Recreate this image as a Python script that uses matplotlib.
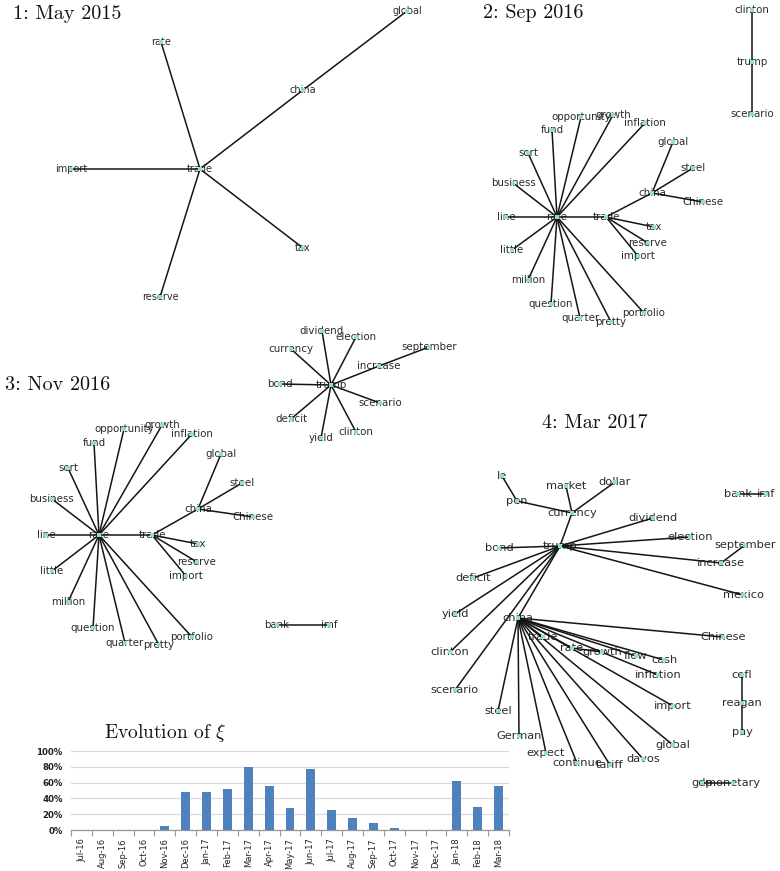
import matplotlib
matplotlib.use("Agg")
import matplotlib.pyplot as plt

plt.rcParams['mathtext.fontset'] = 'cm'

# ---------------- Network data (layout positions in pixel space) ----------------
p1_nodes = ["trade", "rate", "china", "global", "import", "tax", "reserve"]
p1_x = [200, 161, 303, 407, 71, 303, 160]
p1_y = [169, 42, 90, 11, 169, 248, 297]
p1_edges = [("trade", "rate"), ("trade", "china"), ("china", "global"), ("trade", "import"),
            ("trade", "tax"), ("trade", "reserve")]

p2_nodes = ["clinton", "trump", "scenario", "rate", "trade", "china", "global", "steel", "Chinese",
            "tax", "reserve", "import", "opportunity", "growth", "inflation", "fund", "sort",
            "business", "line", "little", "million", "question", "quarter", "pretty", "portfolio"]
p2_x = [752, 752, 752, 557, 606, 652, 673, 693, 703, 654, 648, 638, 581, 613, 645, 552, 528,
        513, 506, 512, 528, 551, 580, 611, 644]
p2_y = [10, 62, 114, 217, 217, 193, 142, 168, 202, 227, 243, 256, 117, 115, 123, 130, 153,
        183, 217, 250, 280, 304, 318, 322, 313]
p2_edges = [("clinton", "trump"), ("trump", "scenario"),
            ("rate", "trade"), ("trade", "china"), ("china", "global"), ("china", "steel"),
            ("china", "Chinese"), ("trade", "tax"), ("trade", "reserve"), ("trade", "import"),
            ("rate", "opportunity"), ("rate", "growth"), ("rate", "inflation"), ("rate", "fund"),
            ("rate", "sort"), ("rate", "business"), ("rate", "line"), ("rate", "little"),
            ("rate", "million"), ("rate", "question"), ("rate", "quarter"), ("rate", "pretty"),
            ("rate", "portfolio")]

p3_nodes = ["trump", "dividend", "election", "currency", "september", "increase", "bond",
            "scenario", "deficit", "clinton", "yield",
            "rate", "trade", "china", "global", "steel", "Chinese", "tax", "reserve", "import",
            "opportunity", "growth", "inflation", "fund", "sort", "business", "line", "little",
            "million", "question", "quarter", "pretty", "portfolio", "bank", "imf"]
p3_x = [331, 322, 356, 291, 429, 379, 280, 380, 291, 356, 321,
        99, 152, 198, 221, 242, 253, 198, 197, 186,
        124, 162, 192, 94, 68, 52, 46, 52, 68, 93, 125, 159, 192, 277, 329]
p3_y = [385, 331, 337, 349, 347, 366, 384, 403, 419, 432, 438,
        535, 535, 509, 454, 483, 517, 544, 562, 576,
        429, 425, 434, 443, 468, 499, 535, 571, 602, 628, 643, 645, 637, 625, 625]
p3_edges = [("trump", "dividend"), ("trump", "election"), ("trump", "currency"),
            ("trump", "increase"), ("increase", "september"), ("trump", "bond"),
            ("trump", "scenario"), ("trump", "deficit"), ("trump", "clinton"), ("trump", "yield"),
            ("rate", "trade"), ("trade", "china"), ("china", "global"), ("china", "steel"),
            ("china", "Chinese"), ("trade", "tax"), ("trade", "reserve"), ("trade", "import"),
            ("rate", "opportunity"), ("rate", "growth"), ("rate", "inflation"), ("rate", "fund"),
            ("rate", "sort"), ("rate", "business"), ("rate", "line"), ("rate", "little"),
            ("rate", "million"), ("rate", "question"), ("rate", "quarter"), ("rate", "pretty"),
            ("rate", "portfolio"), ("bank", "imf")]

p4_nodes = ["le", "pen", "market", "dollar", "currency", "dividend", "bank", "imf", "trump",
            "bond", "election", "september", "increase", "deficit", "mexico", "yield", "china",
            "Chinese", "trade", "rate", "growth", "flow", "cash", "inflation", "clinton", "cefl",
            "reagan", "pay", "scenario", "import", "steel", "German", "global", "expect",
            "continue", "tariff", "davos", "gdp", "monetary"]
p4_x = [502, 517, 566, 615, 572, 653, 738, 766, 560,
        499, 690, 745, 721, 473, 743, 455, 518,
        723, 543, 572, 602, 636, 664, 658, 450, 742,
        742, 742, 455, 673, 498, 519, 673, 546,
        577, 610, 643, 702, 733]
p4_y = [476, 501, 486, 482, 513, 518, 494, 494, 546,
        548, 537, 545, 563, 578, 595, 614, 618,
        637, 637, 648, 652, 656, 660, 675, 652, 675,
        703, 732, 690, 706, 711, 736, 745, 753,
        763, 765, 759, 783, 783]
p4_edges = [("le", "pen"), ("pen", "currency"), ("market", "currency"), ("dollar", "currency"),
            ("currency", "trump"), ("trump", "dividend"), ("trump", "election"), ("trump", "bond"),
            ("trump", "increase"), ("increase", "september"), ("trump", "mexico"),
            ("trump", "deficit"), ("trump", "yield"), ("trump", "clinton"), ("trump", "scenario"),
            ("trump", "china"), ("bank", "imf"), ("china", "Chinese"), ("china", "trade"),
            ("china", "rate"), ("rate", "growth"), ("china", "flow"), ("china", "cash"),
            ("china", "inflation"), ("china", "import"), ("china", "steel"), ("china", "German"),
            ("china", "global"), ("china", "expect"), ("china", "continue"), ("china", "tariff"),
            ("china", "davos"), ("cefl", "reagan"), ("reagan", "pay"), ("gdp", "monetary")]

panel_titles = ["1: May 2015", "2: Sep 2016", "3: Nov 2016", "4: Mar 2017"]
title_x = [13, 483, 5, 595]
title_y = [14, 13, 385, 423]
title_ha = ["left", "left", "left", "center"]

# ---------------- Bar chart data ----------------
months = ["Jul-16", "Aug-16", "Sep-16", "Oct-16", "Nov-16", "Dec-16", "Jan-17", "Feb-17",
          "Mar-17", "Apr-17", "May-17", "Jun-17", "Jul-17", "Aug-17", "Sep-17", "Oct-17",
          "Nov-17", "Dec-17", "Jan-18", "Feb-18", "Mar-18"]
xi_values = [0, 0, 0, 0, 4.6, 48.7, 48.7, 52.5, 80, 55.5, 28, 77.7, 25, 14.7, 8.4, 3,
             0, 0, 62, 29, 55.5]

# ---------------- Drawing ----------------
W, H = 780, 871
fig = plt.figure(figsize=(W / 100, H / 100), dpi=100)
ax = fig.add_axes([0, 0, 1, 1])
ax.set_xlim(0, W)
ax.set_ylim(H, 0)
ax.axis("off")

node_color = "#8fded6"
text_color = "#2b2b2b"


def draw_net(nodes, xs, ys, edges, fs):
    pos = {n: (x, y) for n, x, y in zip(nodes, xs, ys)}
    for n, (x, y) in pos.items():
        ax.text(x, y, n, fontsize=fs, ha="center", va="center", color=text_color,
                family="DejaVu Sans", zorder=1)
    for a, b in edges:
        (x1, y1), (x2, y2) = pos[a], pos[b]
        ax.plot([x1, x2], [y1, y2], color="#151515", lw=1.1, zorder=2,
                solid_capstyle="round")
    ax.scatter(xs, ys, s=9, marker="s", color=node_color, zorder=3, linewidths=0)


draw_net(p1_nodes, p1_x, p1_y, p1_edges, 7.0)
draw_net(p2_nodes, p2_x, p2_y, p2_edges, 7.4)
draw_net(p3_nodes, p3_x, p3_y, p3_edges, 7.4)
draw_net(p4_nodes, p4_x, p4_y, p4_edges, 8.2)

for t, x, y, ha in zip(panel_titles, title_x, title_y, title_ha):
    ax.text(x, y, t, fontsize=14.5, family="cmr10", ha=ha, va="center", color="#111111")

ax.text(165, 733, r"Evolution of $\xi$", fontsize=14, family="cmr10", ha="center",
        va="center", color="#111111")

# Bar chart axes
left, right, top, bottom = 71, 509, 751, 830
bax = fig.add_axes([left / W, (H - bottom) / H, (right - left) / W, (bottom - top) / H])
idx = list(range(len(months)))
bax.bar(idx, xi_values, width=0.42, color="#4f81bd", zorder=3)
bax.set_xlim(-0.5, len(months) - 0.5)
bax.set_ylim(0, 100)
bax.set_yticks([0, 20, 40, 60, 80, 100])
bax.set_yticklabels([f"{v}%" for v in [0, 20, 40, 60, 80, 100]], fontsize=6.2,
                    color="#222222", fontweight="bold")
bax.set_xticks(idx)
bax.set_xticklabels(months, rotation=90, fontsize=6.0, color="#222222")
bax.tick_params(axis="x", length=0, pad=6)
bax.set_xticks([i - 0.5 for i in range(len(months) + 1)], minor=True)
bax.tick_params(axis="x", which="minor", length=4, color="#999999", width=0.8)
bax.tick_params(axis="y", length=0, pad=6)
bax.grid(axis="y", color="#d9d9d9", lw=0.9, zorder=0)
for s in ["top", "right", "left"]:
    bax.spines[s].set_visible(False)
bax.spines["bottom"].set_color("#999999")
bax.spines["bottom"].set_linewidth(0.9)
bax.set_facecolor("none")

fig.savefig("out.png", dpi=100)
